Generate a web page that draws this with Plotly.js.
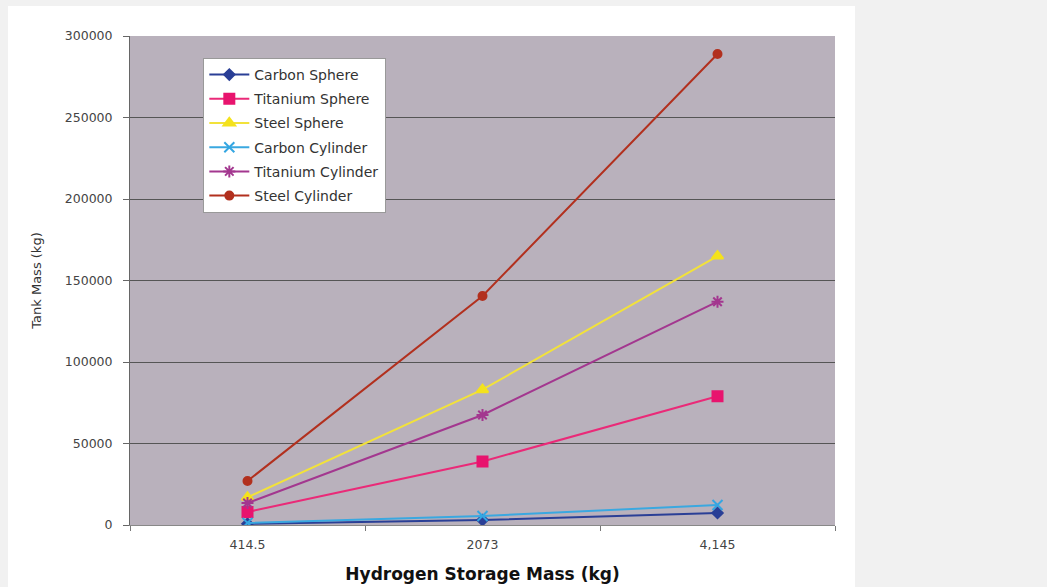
<!DOCTYPE html>
<html><head><meta charset="utf-8">
<script src="https://cdn.plot.ly/plotly-3.0.1.min.js"></script>
<style>
html,body{margin:0;padding:0;background:#f1f1f1;width:1047px;height:587px;overflow:hidden;}
#chart{position:absolute;left:8px;top:6px;width:847px;height:581px;background:#fff;}
</style></head>
<body><div id="chart"></div>
<script>
const categories = ["414.5", "2073", "4,145"];
const carbonSphere = [700, 3000, 7400];
const titaniumSphere = [8000, 39000, 79000];
const steelSphere = [17000, 83000, 165000];
const carbonCylinder = [1300, 5500, 12300];
const titaniumCylinder = [13500, 67500, 137000];
const steelCylinder = [27000, 140500, 289000];

const seriesNames = ["Carbon Sphere","Titanium Sphere","Steel Sphere","Carbon Cylinder","Titanium Cylinder","Steel Cylinder"];
const seriesData = [carbonSphere, titaniumSphere, steelSphere, carbonCylinder, titaniumCylinder, steelCylinder];
const lineColors = ["#2a3f96","#ea2a78","#f2e23a","#3aa8e0","#a3378f","#b2301e"];
const markerColors = ["#2a3f96","#e8146e","#f4e21c","#34a6e2","#a3378f","#b2301e"];
const symbols = ["diamond","square","triangle-up","x-thin-open","asterisk-open","circle"];
const sizes = [8,10,10,10,10,8];

const traces = seriesNames.map((n,i)=>({
  x: categories, y: seriesData[i], name: n, type:'scatter', mode:'lines+markers',
  legendgroup: 'g'+i,
  line:{color: lineColors[i], width:2},
  marker:{symbol: symbols[i], size: sizes[i], color: markerColors[i], line:{color: markerColors[i], width:2}}
}));

const layout = {
  width:847, height:581,
  paper_bgcolor:'#ffffff', plot_bgcolor:'#b9b1bc',
  margin:{l:122, r:20, t:30, b:62},
  font:{family:'DejaVu Sans, sans-serif', color:'#444'},
  showlegend:true,
  legend:{x:0.104, y:0.955, xanchor:'left', yanchor:'top', bgcolor:'#ffffff', bordercolor:'#999', borderwidth:1,
    font:{size:14, color:'#333', family:'DejaVu Sans, sans-serif'}, traceorder:'grouped', tracegroupgap:3, itemwidth:40},
  xaxis:{type:'category', range:[-0.5,2.5], tickson:'boundaries', ticks:'outside', ticklen:5, tickcolor:'#777',
    showline:true, linecolor:'#888', linewidth:1, showgrid:false,
    tickfont:{size:12.5, color:'#444'}, ticklabelstandoff:8,
    title:{text:'Hydrogen Storage Mass (kg)', font:{size:17, color:'#111', family:'DejaVu Sans, sans-serif', weight:'bold'}, standoff:17}},
  yaxis:{range:[0,300000], dtick:50000, tickformat:'d', ticks:'outside', ticklen:6, tickcolor:'#666',
    showline:true, linecolor:'#666', linewidth:1, gridcolor:'#555', gridwidth:1, zeroline:false,
    tickfont:{size:12.5, color:'#444'}, ticklabelstandoff:8,
    title:{text:'Tank Mass (kg)', font:{size:13, color:'#333'}, standoff:20}}
};
Plotly.newPlot('chart', traces, layout, {displayModeBar:false, staticPlot:true});
</script></body></html>
